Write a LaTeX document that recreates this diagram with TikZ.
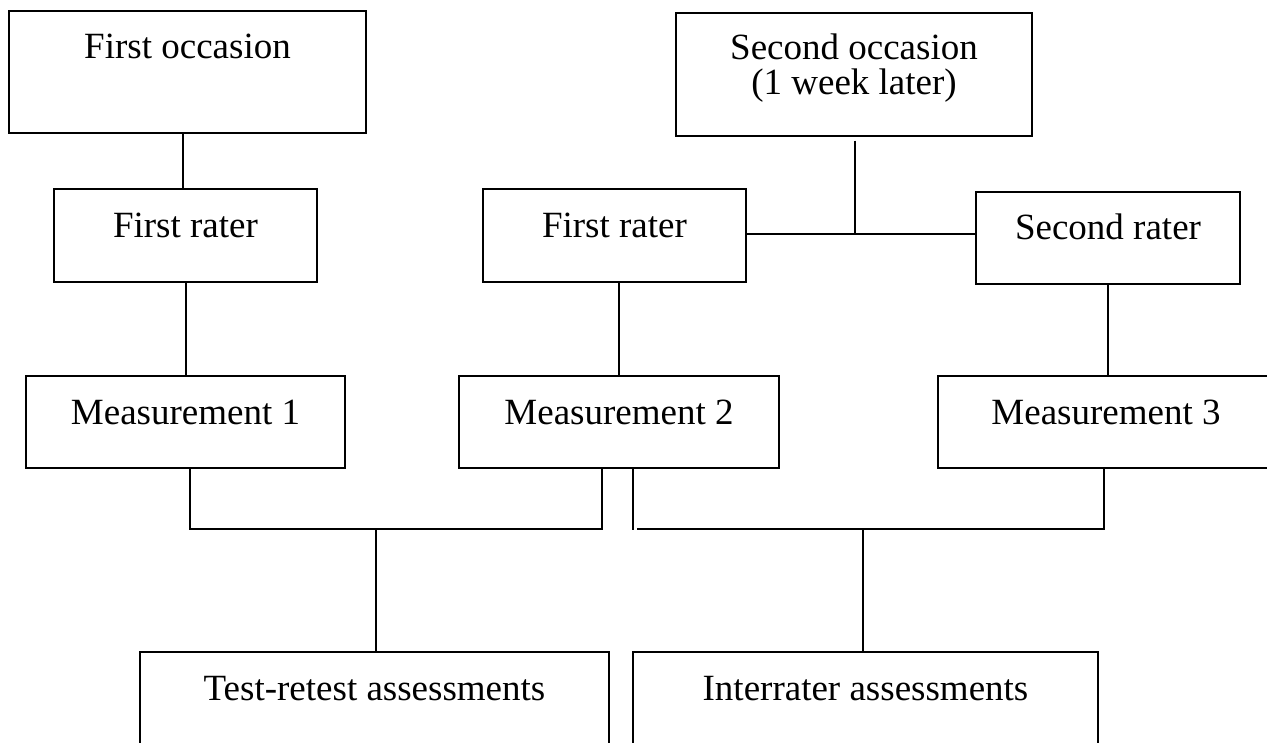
\documentclass[tikz,border=0pt]{standalone}
\usepackage{fontspec}
\setmainfont{Liberation Serif}
\begin{document}
\begin{tikzpicture}[x=1pt,y=-1pt,
  box/.style={draw, rectangle, inner sep=0pt, line width=1.4pt},
  txt/.style={anchor=base, inner sep=0pt, font=\fontsize{37}{33}\selectfont},
  conn/.style={line width=1.3pt}]
\useasboundingbox (0,0) rectangle (1267,742);
\clip (0,0) rectangle (1267,742);
% boxes
\node[box, minimum width=357pt, minimum height=122pt] (fo) at (187.5,72) {};
\node[box, minimum width=356pt, minimum height=123pt] (so) at (854,74.5) {};
\node[box, minimum width=263pt, minimum height=93pt] (frl) at (185.5,235.5) {};
\node[box, minimum width=263pt, minimum height=93pt] (frm) at (614.5,235.5) {};
\node[box, minimum width=264pt, minimum height=92pt] (sr) at (1108,238) {};
\node[box, minimum width=319pt, minimum height=92pt] (m1) at (185.5,422) {};
\node[box, minimum width=320pt, minimum height=92pt] (m2) at (619,422) {};
\node[box, minimum width=336pt, minimum height=92pt] (m3) at (1106,422) {};
\node[box, minimum width=469pt, minimum height=128pt] (tr) at (374.5,716) {};
\node[box, minimum width=465pt, minimum height=128pt] (ir) at (865.5,716) {};
% texts
\node[txt] (fot) at ([yshift=-48pt]fo.north) {First occasion};
\node[txt] (sot1) at ([yshift=-47pt]so.north) {Second occasion};
\node[txt] (sot2) at ([yshift=-82pt]so.north) {(1 week later)};
\node[txt] (frlt) at ([yshift=-49pt]frl.north) {First rater};
\node[txt] (frmt) at ([yshift=-49pt]frm.north) {First rater};
\node[txt] (srt) at ([yshift=-48pt]sr.north) {Second rater};
\node[txt] (m1t) at ([yshift=-49pt]m1.north) {Measurement 1};
\node[txt] (m2t) at ([yshift=-49pt]m2.north) {Measurement 2};
\node[txt] (m3t) at ([yshift=-49pt]m3.north) {Measurement 3};
\node[txt] (trt) at ([yshift=-49pt]tr.north) {Test-retest assessments};
\node[txt] (irt) at ([yshift=-49pt]ir.north) {Interrater assessments};
% junction points
\coordinate (sj) at (855,234);
\coordinate (tj) at (376,529);
\coordinate (ij) at (863,529);
% connectors
\draw[conn] ([xshift=-4.5pt]fo.south) -- ([xshift=-2.5pt]frl.north);
\draw[conn] ([xshift=0.5pt]frl.south) -- ([xshift=0.5pt]m1.north);
\draw[conn] (m2.north) -- (m2.north |- frm.south);
\draw[conn] (sr.south) -- (sr.south |- m3.north);
\draw[conn] ([yshift=-4pt]so.south -| sj) -- (sj);
\draw[conn] (frm.east |- sj) -- (sr.west |- sj);
\draw[conn] ([xshift=4.5pt]m1.south) |- (tj) -| ([xshift=-17pt]m2.south);
\draw[conn] (tj) -- (tj |- tr.north);
\draw[conn] ([xshift=14pt]m2.south) -- ([xshift=14pt,yshift=-1pt]m2.south |- ij);
\draw[conn] ([xshift=18pt]m2.south |- ij) -| ([xshift=-2pt]m3.south);
\draw[conn] (ij) -- (ij |- ir.north);
\end{tikzpicture}
\end{document}
